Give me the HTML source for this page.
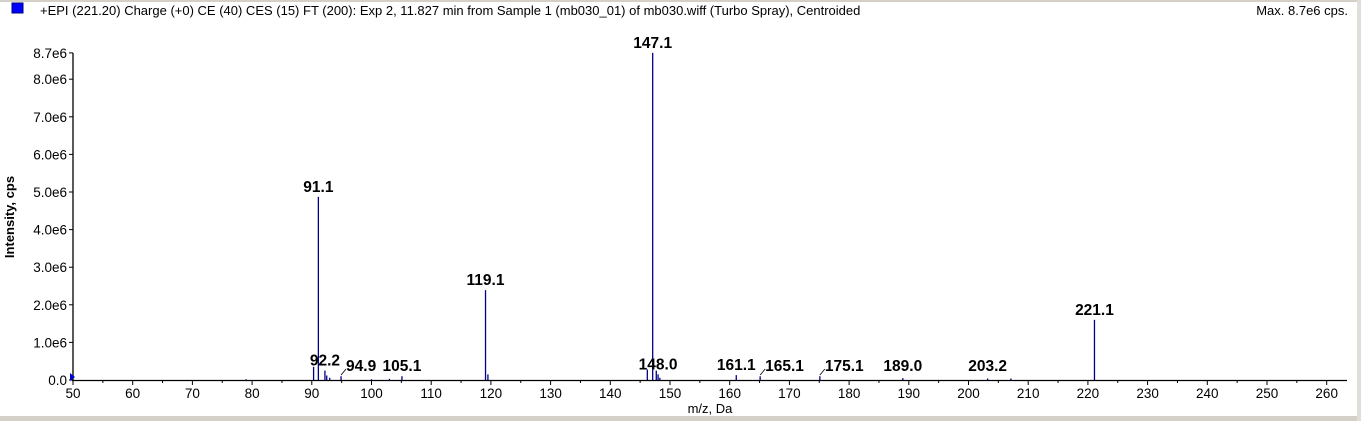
<!DOCTYPE html>
<html><head><meta charset="utf-8"><style>
body{margin:0;background:#fff;width:1361px;height:421px;overflow:hidden;font-family:"Liberation Sans",Arial,sans-serif}
svg text{font-family:"Liberation Sans",Arial,sans-serif}
</style></head><body>
<svg id="chart" width="1361" height="421" xmlns="http://www.w3.org/2000/svg">
<rect x="0" y="0" width="1361" height="2" fill="#d4d0c8"/>
<rect x="0" y="416" width="1361" height="5" fill="#d4d0c8"/>
<rect x="1357" y="0" width="4" height="421" fill="#e0ded8"/>
<rect x="12" y="3" width="11" height="10" fill="#0000ff" stroke="#000080" stroke-width="1"/>
<text x="40" y="15" font-size="13">+EPI (221.20) Charge (+0) CE (40) CES (15) FT (200): Exp 2, 11.827 min from Sample 1 (mb030_01) of mb030.wiff (Turbo Spray), Centroided</text>
<text x="1348" y="15" font-size="13" text-anchor="end">Max. 8.7e6 cps.</text>
<text transform="translate(14,217) rotate(-90)" font-size="13" font-weight="bold" text-anchor="middle">Intensity, cps</text>
<text x="710" y="413" font-size="13" text-anchor="middle">m/z, Da</text>
<g id="axes"></g>
<g id="marks"></g>
<polygon points="70,373 75,377 70,381" fill="#0000cc"/>
</svg>
<script>
const mzValues=[91.1,119.1,147.1,221.1,90.3,92.2,92.5,93.0,94.9,105.1,119.5,146.2,147.7,148.0,148.3,161.1,165.1,175.1,189.0,203.2,207.1,79.0,100.0,103.0];
const intensities=[4.87e6,2.39e6,8.7e6,1.6e6,0.35e6,0.25e6,0.12e6,0.06e6,0.1e6,0.1e6,0.15e6,0.28e6,0.25e6,0.15e6,0.06e6,0.13e6,0.1e6,0.1e6,0.05e6,0.04e6,0.04e6,0.02e6,0.02e6,0.03e6];
const peakLabels=["91.1","119.1","147.1","221.1","92.2","94.9","105.1","148.0","161.1","165.1","175.1","189.0","203.2"];
const peakLabelMz=[91.1,119.1,147.1,221.1,92.2,94.9,105.1,148.0,161.1,165.1,175.1,189.0,203.2];
const xTicks=[50,60,70,80,90,100,110,120,130,140,150,160,170,180,190,200,210,220,230,240,250,260];
const yTicks=[0,1e6,2e6,3e6,4e6,5e6,6e6,7e6,8e6,8.7e6];
const yTickLabels=["0.0","1.0e6","2.0e6","3.0e6","4.0e6","5.0e6","6.0e6","7.0e6","8.0e6","8.7e6"];
const X=v=>73+(v-50)*5.97;
const Y=v=>380-v*37.6e-6;
const NS="http://www.w3.org/2000/svg";
function mk(tag,attrs,parent){const e=document.createElementNS(NS,tag);for(const k in attrs)e.setAttribute(k,attrs[k]);parent.appendChild(e);return e;}
const ax=document.getElementById('axes'),mg=document.getElementById('marks');
let a=mk('line',{x1:73,y1:53,x2:73,y2:381,stroke:'#000','stroke-width':1.3},ax);


a=mk('line',{x1:72,y1:380.5,x2:1347,y2:380.5,stroke:'#000','stroke-width':1.3},ax);


xTicks.forEach(t=>{
  const l=mk('line',{x1:X(t),y1:380,x2:X(t),y2:385,stroke:'#000'},ax);
  
  
  if(t<260){const m=mk('line',{x1:X(t+5),y1:380,x2:X(t+5),y2:383,stroke:'#000'},ax);
  
  }
  const tx=mk('text',{x:X(t),y:398,'font-size':13.5,'text-anchor':'middle'},ax);tx.textContent=t;
  
  
});
yTicks.forEach((t,i)=>{
  const l=mk('line',{x1:69,y1:Y(t),x2:73,y2:Y(t),stroke:'#000'},ax);
  
  
  const tx=mk('text',{x:67,y:Y(t)+5,'font-size':13.5,'text-anchor':'end'},ax);tx.textContent=yTickLabels[i];
  
  
});
mzValues.forEach((m,i)=>{
  const l=mk('line',{x1:X(m),y1:380,x2:X(m),y2:Y(intensities[i]),stroke:'#00008b','stroke-width':1.3},mg);
  
  
});
peakLabels.forEach((s,i)=>{
  const m=peakLabelMz[i];const idx=mzValues.indexOf(m);
  const h=idx>=0?intensities[idx]:0;
  let y=Math.min(Y(h)-5,371),x=X(m);
  const lead=(s==="94.9"||s==="165.1"||s==="175.1");
  if(lead){x+=5;
    const ln=mk('line',{x1:X(m),y1:375,x2:x,y2:369,stroke:'#000','stroke-width':0.8},mg);
    
    }
  const tx=mk('text',{x:x,y:y,'font-size':15.5,'font-weight':'bold','text-anchor':lead?'start':'middle'},mg);tx.textContent=s;
  
  
});
</script>
</body></html>
